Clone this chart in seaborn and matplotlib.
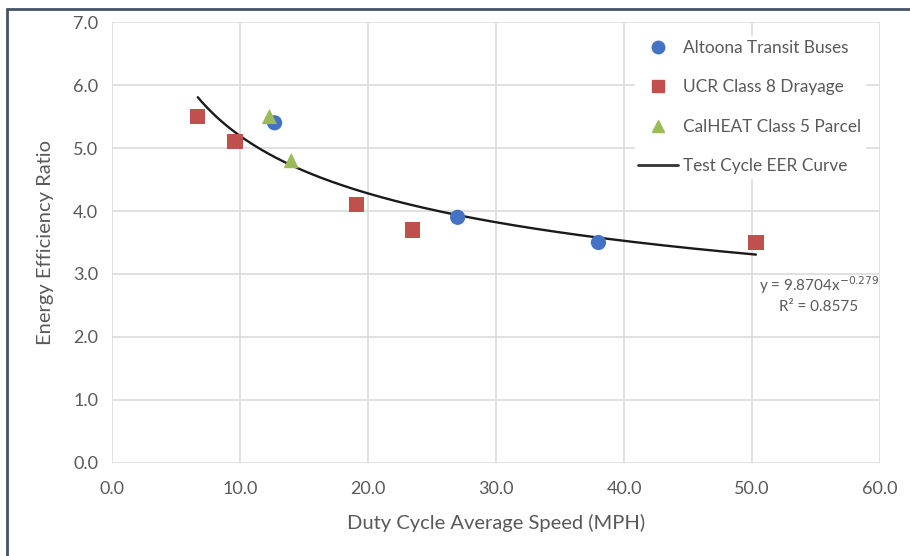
import numpy as np
import pandas as pd
import matplotlib
matplotlib.use("Agg")
import matplotlib.pyplot as plt
from matplotlib.lines import Line2D
import seaborn as sns

# Measured duty cycles
altoona_speed = [12.7, 27.0, 38.0]
altoona_eer = [5.4, 3.9, 3.5]
ucr_speed = [6.7, 9.6, 19.1, 23.5, 50.3]
ucr_eer = [5.5, 5.1, 4.1, 3.7, 3.5]
calheat_speed = [12.3, 14.0]
calheat_eer = [5.5, 4.8]

# Power-law trendline y = a * x^b
fit_a = 9.8704
fit_b = -0.279
fit_r2 = 0.8575
fit_range = [6.7, 50.3]

x_ticks = [0, 10, 20, 30, 40, 50, 60]
y_ticks = [0, 1, 2, 3, 4, 5, 6, 7]

series_names = ["Altoona Transit Buses", "UCR Class 8 Drayage", "CalHEAT Class 5 Parcel"]

sns.set_theme(style="white")
plt.rcParams["font.family"] = ["Lato", "DejaVu Sans"]

text_color = "#595959"
grid_color = "#DCDCDC"
blue, red, green = "#4472C4", "#C0504D", "#9BBB59"

fig = plt.figure(figsize=(9.1, 5.56), dpi=100)
ax = fig.add_axes([0.1231, 0.1673, 0.8440, 0.7931])

pts = pd.concat([
    pd.DataFrame({"speed": altoona_speed, "eer": altoona_eer, "series": series_names[0]}),
    pd.DataFrame({"speed": ucr_speed, "eer": ucr_eer, "series": series_names[1]}),
    pd.DataFrame({"speed": calheat_speed, "eer": calheat_eer, "series": series_names[2]}),
])

xs = np.linspace(fit_range[0], fit_range[1], 300)
curve = pd.DataFrame({"speed": xs, "eer": fit_a * xs ** fit_b})

sns.lineplot(data=curve, x="speed", y="eer", ax=ax, color="#1a1a1a", lw=1.7, zorder=3)
sns.scatterplot(data=pts, x="speed", y="eer", hue="series", style="series",
                palette=[blue, red, green], markers=["o", "s", "^"],
                s=120, edgecolor="none", ax=ax, legend=False, zorder=4)

ax.set_xlim(0, 60)
ax.set_ylim(0, 7)
ax.set_xticks(x_ticks)
ax.set_yticks(y_ticks)
ax.set_xticklabels([f"{v:.1f}" for v in x_ticks])
ax.set_yticklabels([f"{v:.1f}" for v in y_ticks])
ax.grid(True, color=grid_color, lw=1.2)
ax.set_axisbelow(True)
for sp in ax.spines.values():
    sp.set_visible(False)
ax.tick_params(axis="both", length=0, labelsize=13, colors=text_color, pad=10)
ax.tick_params(axis="x", pad=13)
ax.set_xlabel("Duty Cycle Average Speed (MPH)", fontsize=14.5, color=text_color, labelpad=12)
ax.set_ylabel("Energy Efficiency Ratio", fontsize=14.5, color=text_color, labelpad=14)

handles = [
    Line2D([], [], marker="o", ls="none", color=blue, markersize=9),
    Line2D([], [], marker="s", ls="none", color=red, markersize=9),
    Line2D([], [], marker="^", ls="none", color=green, markersize=9),
    Line2D([], [], color="#333333", lw=2),
]
leg = ax.legend(handles, series_names + ["Test Cycle EER Curve"], loc="upper right",
                bbox_to_anchor=(0.991, 0.9875), frameon=True, fontsize=12.4,
                labelspacing=1.37, handlelength=2.3, handletextpad=0.3,
                borderpad=0.2, fancybox=False, framealpha=1)
leg.get_frame().set_edgecolor("white")
for t in leg.get_texts():
    t.set_color(text_color)

ax.text(55.2, 2.68, f"y = {fit_a}x$^{{{fit_b}}}$\nR² = {fit_r2}", fontsize=11,
        color=text_color, ha="center", va="center", linespacing=1.35)

# Outer frame lines
fig.add_artist(Line2D([0.0077, 0.0077], [0, 0.984], transform=fig.transFigure,
                      color="#44546A", lw=2))
fig.add_artist(Line2D([0.0077, 1.0], [0.984, 0.984], transform=fig.transFigure,
                      color="#44546A", lw=2))

fig.savefig("out.png", dpi=100)
